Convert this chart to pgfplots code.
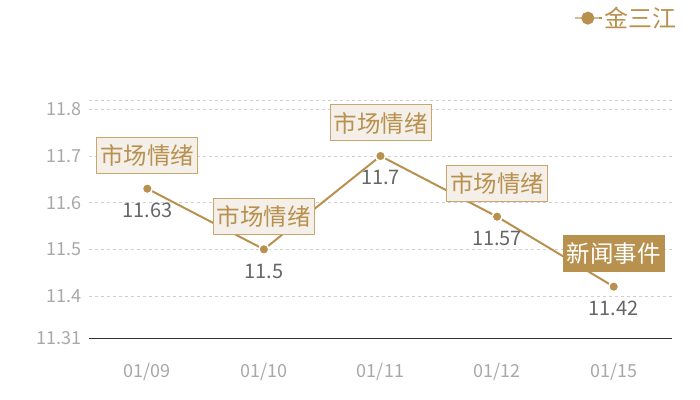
\documentclass[border=0pt]{standalone}
\usepackage{pgfplots}
\pgfplotsset{compat=1.18}
\usepackage{fontspec}
\setmainfont{Noto Sans CJK SC}

\definecolor{gold}{HTML}{B8914F}
\definecolor{boxfill}{HTML}{F4EFE8}
\definecolor{boxline}{HTML}{C9A66C}
\definecolor{labelgray}{HTML}{666666}
\definecolor{tickgray}{HTML}{A8A8A8}
\definecolor{gridgray}{HTML}{D0D0D0}

\begin{document}
\begin{tikzpicture}
\path[use as bounding box] (0,0) rectangle (700bp,400bp);
\begin{axis}[
  at={(89bp,62bp)}, anchor=south west,
  scale only axis, width=583bp, height=238bp,
  xmin=-0.5, xmax=4.5, ymin=11.31, ymax=11.82,
  clip=false,
  axis x line*=bottom, axis y line*=left,
  y axis line style={draw=none},
  x axis line style={draw=black!80, line width=1bp},
  major tick length=0pt,
  xtick={0,1,2,3,4},
  xticklabels={01/09,01/10,01/11,01/12,01/15},
  ytick={11.31,11.4,11.5,11.6,11.7,11.8},
  yticklabels={11.31,11.4,11.5,11.6,11.7,11.8},
  extra y ticks={11.82}, extra y tick labels={},
  extra y tick style={grid=major},
  ymajorgrids,
  grid style={dashed, gridgray, line width=0.6bp},
  tick label style={font=\fontsize{18bp}{18bp}\selectfont, text=tickgray},
  y tick label style={anchor=east, inner sep=0pt, xshift=-7bp},
  x tick label style={anchor=center, inner sep=0pt, yshift=-34bp},
  legend style={at={(axis description cs:1.012,1.344)}, anchor=east,
    draw=none, fill=none, inner sep=0pt, text=gold,
    font=\fontsize{24bp}{24bp}\selectfont},
  legend image code/.code={
    \path (0bp,0bp) -- (27bp,0bp);
    \draw[gold!60, line width=2bp] (0bp,0bp) -- (24bp,0bp);
    \fill[gold] (13bp,0bp) circle[radius=5.5bp];},
]
\addplot[gold, line width=2bp, mark=*, mark size=5bp,
  mark options={fill=gold, draw=white, line width=1.5bp},
  nodes near coords, point meta=explicit symbolic,
  every node near coord/.append style={anchor=center, yshift=-22bp,
    text=labelgray, inner sep=0pt, font=\fontsize{20bp}{20bp}\selectfont}]
  coordinates {(0,11.63) [11.63] (1,11.5) [11.5] (2,11.7) [11.7]
               (3,11.57) [11.57] (4,11.42) [11.42]};
\addlegendentry{金三江}

\addplot[forget plot, draw=none, nodes near coords, point meta=explicit symbolic,
  every node near coord/.append style={anchor=center, yshift=33bp,
    fill=boxfill, draw=boxline, line width=1bp, text=gold,
    inner sep=0pt, minimum width=101bp, minimum height=36bp,
    font=\fontsize{23.5bp}{23.5bp}\selectfont}]
  coordinates {(0,11.63) [市场情绪] (1,11.5) [市场情绪] (2,11.7) [市场情绪]
               (3,11.57) [市场情绪]};

\addplot[forget plot, draw=none, nodes near coords, point meta=explicit symbolic,
  every node near coord/.append style={anchor=center, yshift=33bp,
    fill=gold, draw=gold, line width=1bp, text=white,
    inner sep=0pt, minimum width=101bp, minimum height=36bp,
    font=\fontsize{23.5bp}{23.5bp}\selectfont}]
  coordinates {(4,11.42) [新闻事件]};
\end{axis}
\end{tikzpicture}
\end{document}
